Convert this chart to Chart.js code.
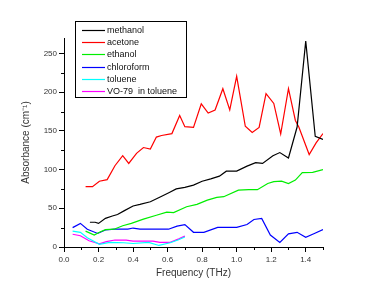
<!DOCTYPE html>
<html>
<head>
<meta charset="utf-8">
<script src="https://cdn.jsdelivr.net/npm/chart.js@4/dist/chart.umd.min.js"></script>
<style>
  html, body { margin: 0; padding: 0; background: #fff; }
  #wrap { width: 385px; height: 291px; position: relative; }
</style>
</head>
<body>
<div id="wrap"><canvas id="mychart" width="385" height="291"></canvas></div>
<script>
'use strict';

// series names + colours
const names = ['methanol', 'acetone', 'ethanol', 'chloroform', 'toluene', 'VO-79  in toluene'];
const colors = ['#000000', '#ff0000', '#00ee00', '#0000ff', '#00ffff', '#ff00ff'];

// frequency (THz) / absorbance (cm-1)
const methanolX = [0.15,0.18,0.20,0.24,0.28,0.31,0.35,0.40,0.44,0.50,0.56,0.61,0.65,0.70,0.75,0.80,0.85,0.90,0.94,1.00,1.06,1.11,1.15,1.21,1.25,1.30,1.35,1.40,1.455,1.50];
const methanolY = [32,32,30.5,37,40,42,47,53,55,58.5,65,70.5,75,77,80,85,88,91.5,98,98,104.5,109,108,118,122,115,155,266,143,139];

const acetoneX = [0.125,0.165,0.205,0.25,0.295,0.34,0.375,0.42,0.46,0.50,0.535,0.565,0.625,0.67,0.70,0.75,0.795,0.835,0.875,0.92,0.96,1.00,1.05,1.09,1.13,1.17,1.215,1.255,1.30,1.34,1.36,1.42,1.46,1.50];
const acetoneY = [78,78,85,87,105,118,108,121,128.5,126.5,142,144,146.5,170,155.5,154.5,185,173,177,204.5,177,220.5,156,148,154.5,198,185.5,146,204.5,163.5,155,119.5,134.5,146.5];

const ethanolX = [0.125,0.175,0.205,0.24,0.29,0.34,0.39,0.46,0.535,0.595,0.635,0.71,0.77,0.83,0.885,0.925,1.01,1.07,1.12,1.18,1.215,1.26,1.30,1.34,1.38,1.44,1.50];
const ethanolY = [20.5,15.5,19,22.5,23,27.5,30.5,36,41,45,44.5,52,55,60.5,64,65,73.5,74,74,82,84.5,85,82,86.5,96,96.5,100];

const chloroformX = [0.05,0.095,0.135,0.195,0.24,0.295,0.37,0.40,0.44,0.605,0.655,0.70,0.75,0.81,0.89,1.00,1.06,1.10,1.145,1.195,1.25,1.30,1.35,1.40,1.45,1.50];
const chloroformY = [25,30.5,23,17.5,22,23,23,24.5,23,23,27,29,19,19,25.4,25.4,29,35.5,37,15.5,6,17,19,12.5,17.5,22.5];

const tolueneX = [0.05,0.095,0.135,0.205,0.265,0.345,0.40,0.49,0.55,0.615,0.66,0.70];
const tolueneY = [20.5,19,12,3.5,6,5.5,4.5,6,2,5.5,9,13];

const vo79X = [0.05,0.095,0.145,0.205,0.245,0.295,0.36,0.40,0.515,0.555,0.615,0.665,0.70];
const vo79Y = [16.5,14.5,8,4,7,9,9,7.5,7.5,6,6,10.5,14];

// ticks
const xTicks = [0, 0.2, 0.4, 0.6, 0.8, 1.0, 1.2, 1.4];
const xMinor = [0.1, 0.3, 0.5, 0.7, 0.9, 1.1, 1.3, 1.5];
const yTicks = [0, 50, 100, 150, 200, 250];
const yMinor = [25, 75, 125, 175, 225];

const seriesX = [methanolX, acetoneX, ethanolX, chloroformX, tolueneX, vo79X];
const seriesY = [methanolY, acetoneY, ethanolY, chloroformY, tolueneY, vo79Y];

function pts(xs, ys) {
  let out = [];
  for (let i = 0; i < xs.length; i++) out.push({x: xs[i], y: ys[i]});
  return out;
}

let datasets = [];
for (let i = 0; i < names.length; i++) {
  datasets.push({
    label: names[i],
    data: pts(seriesX[i], seriesY[i]),
    borderColor: colors[i],
    backgroundColor: colors[i],
    borderWidth: 1.2,
    pointRadius: 0,
    tension: 0,
    fill: false
  });
}

///////////////// minor ticks + boxed legend /////////////////
const extras = {
  id: 'extras',
  afterDraw(chart) {
    const ctx = chart.ctx;
    const xs = chart.scales.x, ys = chart.scales.y;
    ctx.save();
    ctx.strokeStyle = '#000';
    ctx.lineWidth = 1;
    ctx.beginPath();
    xMinor.forEach(v => {
      let px = Math.round(xs.getPixelForValue(v)) + 0.5;
      ctx.moveTo(px, ys.bottom);
      ctx.lineTo(px, ys.bottom + 3);
    });
    yMinor.forEach(v => {
      let py = Math.round(ys.getPixelForValue(v)) + 0.5;
      ctx.moveTo(xs.left, py);
      ctx.lineTo(xs.left - 3, py);
    });
    ctx.stroke();

    // legend box
    ctx.strokeRect(75.5, 21.5, 111, 76);
    ctx.font = '9px "Liberation Sans", Arial, sans-serif';
    ctx.textBaseline = 'middle';
    ctx.fillStyle = '#111';
    chart.data.datasets.forEach((ds, i) => {
      let y = 30 + i * 12.2;
      ctx.strokeStyle = ds.borderColor;
      ctx.lineWidth = 1.2;
      ctx.beginPath();
      ctx.moveTo(82, Math.round(y) + 0.5);
      ctx.lineTo(105, Math.round(y) + 0.5);
      ctx.stroke();
      ctx.fillText(ds.label, 107, y + 0.5);
    });
    ctx.restore();
  }
};

let ctx = document.getElementById('mychart').getContext('2d');
let chart1 = new Chart(ctx, {
  type: 'line',
  data: { datasets: datasets },
  options: {
    responsive: false,
    animation: false,
    layout: { padding: { top: 38, right: 62, left: 0, bottom: 0 } },
    plugins: { legend: { display: false }, tooltip: { enabled: false } },
    scales: {
      x: {
        type: 'linear',
        min: 0, max: 1.5,
        afterBuildTicks: s => { s.ticks = xTicks.map(v => ({value: v})); },
        afterFit: s => { s.height = 44; },
        grid: { drawOnChartArea: false, tickLength: 5, color: '#000' },
        border: { display: true, color: '#000', width: 1 },
        ticks: {
          color: '#333', padding: 3, maxRotation: 0,
          font: { family: '"Liberation Sans", Arial, sans-serif', size: 8 },
          callback: v => v.toFixed(1)
        },
        title: {
          display: true, text: 'Frequency (THz)', color: '#333',
          font: { family: '"Liberation Sans", Arial, sans-serif', size: 10 },
          padding: { top: 0, bottom: 12 }
        }
      },
      y: {
        min: 0, max: 270,
        afterBuildTicks: s => { s.ticks = yTicks.map(v => ({value: v})); },
        afterFit: s => { s.width = 64; },
        grid: { drawOnChartArea: false, tickLength: 5, color: '#000' },
        border: { display: true, color: '#000', width: 1 },
        ticks: {
          color: '#333', padding: 2,
          font: { family: '"Liberation Sans", Arial, sans-serif', size: 8 }
        },
        title: {
          display: true, text: 'Absorbance (cm\u207B\u00B9)', color: '#333',
          font: { family: '"Liberation Sans", Arial, sans-serif', size: 10 },
          padding: { top: 20, bottom: 0 }
        }
      }
    }
  },
  plugins: [extras]
});
</script>
</body>
</html>
